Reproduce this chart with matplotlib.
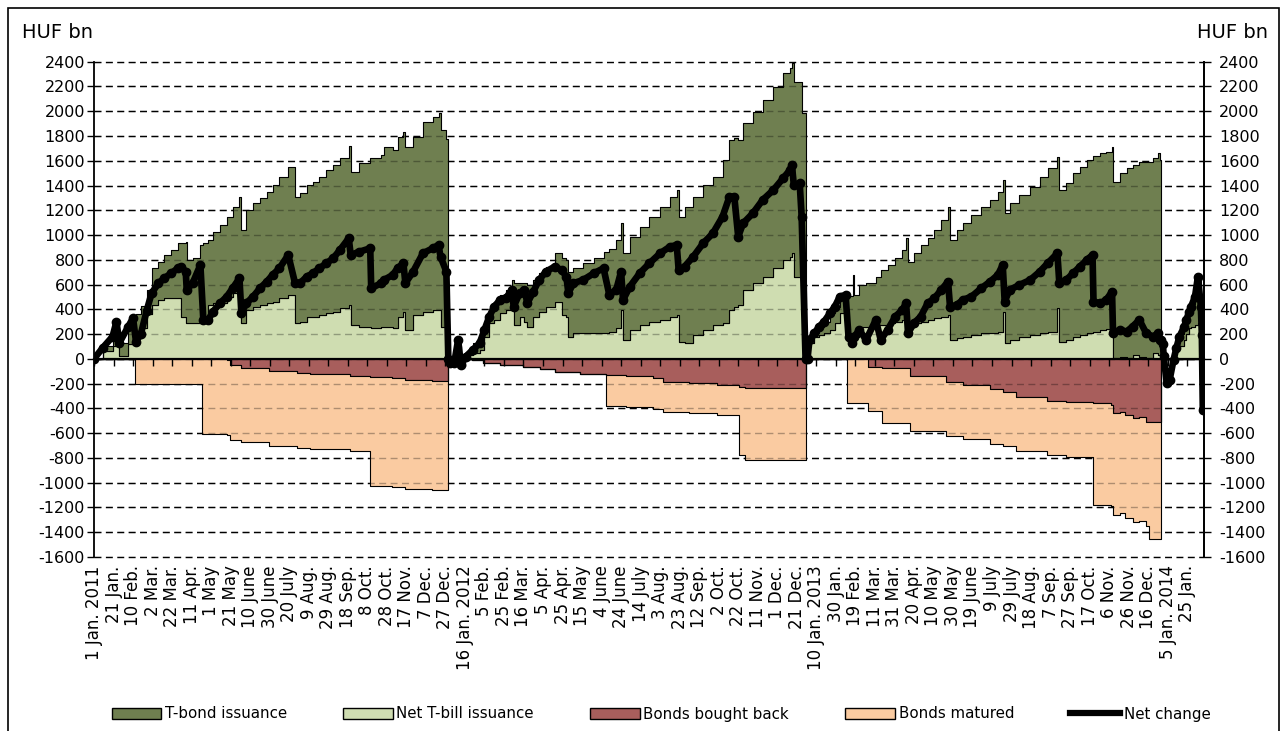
import datetime as dt
import numpy as np
import matplotlib
matplotlib.use("Agg")
import matplotlib.pyplot as plt
import matplotlib.dates as mdates
from matplotlib.patches import Patch, Rectangle
from matplotlib.lines import Line2D

# ---------------- data (HUF bn, cumulative within each year) ----------------
dates_2011 = ['2011-01-01', '2011-01-10', '2011-01-20', '2011-01-24', '2011-01-27', '2011-02-05', '2011-02-10',
              '2011-02-13', '2011-02-18', '2011-02-24', '2011-03-01', '2011-03-08', '2011-03-14', '2011-03-21',
              '2011-03-28', '2011-03-31', '2011-04-05', '2011-04-06', '2011-04-12', '2011-04-20', '2011-04-23',
              '2011-04-28', '2011-05-03', '2011-05-10', '2011-05-17', '2011-05-23', '2011-05-30', '2011-06-01',
              '2011-06-06', '2011-06-13', '2011-06-20', '2011-06-27', '2011-07-03', '2011-07-10', '2011-07-19',
              '2011-07-26', '2011-07-31', '2011-08-07', '2011-08-13', '2011-08-20', '2011-08-27', '2011-09-03',
              '2011-09-10', '2011-09-19', '2011-09-21', '2011-09-30', '2011-10-11', '2011-10-12', '2011-10-22',
              '2011-10-25', '2011-11-03', '2011-11-08', '2011-11-14', '2011-11-16', '2011-11-24', '2011-12-04',
              '2011-12-14', '2011-12-20', '2011-12-22', '2011-12-28', '2011-12-30']
bond_2011 = [0, 40, 90, 120, 110, 140, 180, 190, 180, 200, 296, 309, 349, 390, 443, 591, 659, 511, 524, 605,
             618, 524, 579, 632, 646, 699, 780, 753, 807, 834, 861, 901, 941, 981, 1036, 1022, 1036, 1062, 1089, 1116,
             1156, 1184, 1210, 1283, 1238, 1318, 1358, 1372, 1385, 1453, 1440, 1452, 1453, 1480, 1434, 1533, 1561,
             1588, 1587, 1512, 0]
bill_2011 = [0, 60, 100, 180, 20, 120, 150, 170, 250, 360, 436, 476, 490, 490, 490, 342, 288, 288, 288, 315,
             315, 436, 449, 449, 503, 530, 530, 288, 395, 422, 436, 449, 463, 490, 516, 288, 301, 342, 342, 355,
             369, 382, 409, 436, 274, 261, 261, 247, 261, 261, 247, 342, 382, 234, 355, 382, 395, 395, 261, 261, 0]
net_2011 = [0, 90, 180, 300, 130, 260, 330, 140, 200, 390, 530, 611, 651, 691, 732, 745, 705, 557, 611, 759,
            315, 315, 382, 449, 503, 570, 651, 369, 449, 503, 570, 624, 678, 732, 839, 611, 611, 664, 691, 732,
            772, 812, 880, 974, 839, 866, 893, 570, 611, 637, 678, 732, 772, 611, 705, 853, 893, 920, 826, 705, 0]

dates_2012 = ['2012-01-01', '2012-01-05', '2012-01-09', '2012-01-12', '2012-01-17', '2012-01-24', '2012-01-31',
              '2012-02-05', '2012-02-10', '2012-02-15', '2012-02-21', '2012-02-27', '2012-03-04', '2012-03-06',
              '2012-03-12', '2012-03-17', '2012-03-20', '2012-03-26', '2012-04-01', '2012-04-08', '2012-04-17',
              '2012-04-24', '2012-04-29', '2012-05-01', '2012-05-06', '2012-05-16', '2012-05-27', '2012-06-06',
              '2012-06-12', '2012-06-19', '2012-06-24', '2012-06-26', '2012-07-03', '2012-07-13', '2012-07-23',
              '2012-08-03', '2012-08-13', '2012-08-20', '2012-08-22', '2012-08-28', '2012-09-06', '2012-09-16',
              '2012-09-26', '2012-10-06', '2012-10-13', '2012-10-18', '2012-10-22', '2012-10-27', '2012-11-06',
              '2012-11-16', '2012-11-27', '2012-12-07', '2012-12-14', '2012-12-16', '2012-12-18', '2012-12-24',
              '2012-12-26', '2012-12-30']
bond_2012 = [0, 0, 20, 10, 27, 80, 80, 81, 107, 134, 147, 162, 242, 337, 269, 310, 336, 295, 309, 323,
             390, 457, 457, 525, 525, 565, 605, 659, 664, 713, 700, 700, 753, 794, 848, 914, 968, 1009, 1009, 1103,
             1116, 1170, 1197, 1318, 1372, 1359, 1331, 1345, 1385, 1426, 1466, 1506, 1520, 1533, 1574, 1574, 1383, 0]
bill_2012 = [0, 0, 100, 0, 32, 46, 73, 180, 288, 315, 369, 395, 395, 274, 342, 301, 261, 342, 382, 422,
             463, 355, 342, 180, 207, 207, 207, 207, 221, 247, 395, 153, 234, 274, 301, 315, 342, 355, 140, 126,
             194, 234, 274, 288, 395, 422, 436, 557, 611, 664, 732, 799, 826, 853, 664, 664, 600, 0]
net_2012 = [-30, -35, 150, -48, 19, 73, 126, 234, 342, 422, 476, 490, 557, 422, 530, 557, 449, 543, 637, 705,
            745, 718, 664, 530, 611, 637, 691, 732, 516, 557, 705, 476, 584, 691, 772, 853, 906, 920, 718, 745,
            826, 933, 1014, 1149, 1310, 1310, 987, 1095, 1176, 1283, 1364, 1458, 1525, 1566, 1404, 1418, 1149, 0]

dates_2013 = ['2013-01-01', '2013-01-03', '2013-01-08', '2013-01-13', '2013-01-18', '2013-01-24', '2013-01-29',
              '2013-02-03', '2013-02-09', '2013-02-12', '2013-02-16', '2013-02-17', '2013-02-18', '2013-02-23',
              '2013-03-02', '2013-03-12', '2013-03-17', '2013-03-24', '2013-04-01', '2013-04-08', '2013-04-12',
              '2013-04-14', '2013-04-20', '2013-04-27', '2013-05-04', '2013-05-11', '2013-05-18', '2013-05-25',
              '2013-05-27', '2013-06-03', '2013-06-09', '2013-06-18', '2013-06-28', '2013-07-07', '2013-07-15',
              '2013-07-20', '2013-07-22', '2013-07-27', '2013-08-06', '2013-08-17', '2013-08-27', '2013-09-04',
              '2013-09-14', '2013-09-16', '2013-09-23', '2013-09-30', '2013-10-07', '2013-10-14', '2013-10-20',
              '2013-10-21', '2013-10-28', '2013-11-03', '2013-11-09', '2013-11-10', '2013-11-17', '2013-11-24',
              '2013-11-30', '2013-12-07', '2013-12-14', '2013-12-21', '2013-12-26', '2013-12-28', '2013-12-29',
              '2013-12-31']
bond_2013 = [0, 27, 27, 67, 94, 135, 132, 146, 148, 330, 330, 500, 336, 336, 350, 390, 444, 471, 511, 565,
             646, 524, 565, 619, 659, 713, 780, 874, 807, 874, 915, 968, 1022, 1070, 1129, 1062, 1049, 1103, 1143,
             1197, 1264, 1318, 1224, 1224, 1265, 1318, 1358, 1399, 1417, 1417, 1426, 1433, 1467, 1426, 1479, 1534,
             1534, 1574, 1588, 1574, 1628, 1574, 0, 0]
bill_2013 = [0, 126, 180, 194, 207, 234, 290, 370, 395, 180, 180, 180, 180, 261, 261, 274, 274, 288, 301, 315,
             328, 261, 288, 301, 315, 328, 342, 355, 153, 167, 180, 194, 207, 213, 221, 382, 126, 153, 180, 194,
             207, 221, 409, 140, 153, 180, 194, 207, 221, 221, 234, 240, 247, 5, 19, 5, 32, 19, 5, 46, 32, 32, 0, 0]
net_2013 = [0, 153, 207, 261, 301, 369, 422, 503, 516, 180, 126, 180, 180, 234, 153, 315, 153, 234, 342, 395,
            449, 207, 288, 342, 449, 490, 557, 624, 422, 436, 476, 503, 570, 624, 678, 759, 463, 557, 597, 637,
            705, 772, 853, 611, 637, 691, 745, 799, 839, 463, 449, 476, 543, 207, 234, 221, 261, 315, 207, 180,
            207, 153, 150, 120]

dates_2014 = ['2014-01-01', '2014-01-04', '2014-01-07', '2014-01-11', '2014-01-14', '2014-01-17', '2014-01-22',
              '2014-01-24', '2014-01-27', '2014-01-29', '2014-02-02', '2014-02-05', '2014-02-08', '2014-02-09',
              '2014-02-10']
bond_2014 = [0, 0, 0, 0, 27, 100, 107, 130, 150, 180, 236, 372, 175, 100, 100]
bill_2014 = [0, 0, 0, 0, 73, 100, 153, 200, 247, 260, 274, 288, 247, 200, 200]
net_2014 = [20, -196, -169, -8, 90, 180, 260, 315, 380, 422, 503, 664, 422, 194, -412]

neg_dates = ['2011-01-01', '2011-02-12', '2011-04-22', '2011-05-17', '2011-05-20', '2011-06-01', '2011-06-29',
             '2011-07-28', '2011-08-10', '2011-09-20', '2011-10-11', '2011-11-02', '2011-11-16', '2011-12-13',
             '2011-12-30',
             '2012-01-23', '2012-02-04', '2012-02-21', '2012-03-16', '2012-04-02', '2012-04-17', '2012-05-13',
             '2012-06-09', '2012-06-29', '2012-07-27', '2012-08-06', '2012-09-02', '2012-09-30', '2012-10-23',
             '2012-10-29', '2012-12-30',
             '2013-02-10', '2013-03-04', '2013-03-18', '2013-04-16', '2013-05-23', '2013-06-09', '2013-07-07',
             '2013-07-20', '2013-08-03', '2013-09-03', '2013-09-23', '2013-10-21', '2013-11-08', '2013-11-10',
             '2013-11-17', '2013-11-22', '2013-11-30', '2013-12-07', '2013-12-14', '2013-12-17', '2013-12-29',
             '2014-02-10']
bought_back = [0, 0, 0, -13, -48, -70, -100, -115, -124, -137, -143, -156, -170, -175, 0,
               -10, -30, -48, -67, -83, -105, -124, -132, -140, -156, -183, -196, -210, -225, -234, 0,
               0, -62, -75, -140, -183, -210, -245, -264, -304, -340, -350, -358, -371, -438, -425, -452, -479,
               -471, -506, -506, 0, 0]
matured = [0, -200, -605, -605, -605, -605, -605, -605, -605, -605, -880, -880, -880, -880, 0,
           0, 0, 0, 0, 0, 0, 0, -245, -245, -245, -245, -245, -245, -555, -586, 0,
           -360, -360, -440, -440, -440, -440, -440, -440, -440, -440, -440, -820, -820, -820, -820, -835, -835,
           -835, -845, -950, 0, 0]

y_ticks = list(range(-1600, 2401, 200))
month_abbr = ['Jan.', 'Feb.', 'Mar.', 'Apr.', 'May', 'June', 'July', 'Aug.', 'Sep.', 'Oct.', 'Nov.', 'Dec.']
legend_labels = ['T-bond issuance', 'Net T-bill issuance', 'Bonds bought back', 'Bonds matured', 'Net change']

# ---------------- preparation ----------------
def to_num(ds):
    return mdates.date2num([dt.datetime.strptime(d, '%Y-%m-%d') for d in ds])

pos_dates = to_num(dates_2011 + dates_2012 + dates_2013 + dates_2014)
bond = np.array(bond_2011 + bond_2012 + bond_2013 + bond_2014, float)
bill = np.array(bill_2011 + bill_2012 + bill_2013 + bill_2014, float)
net = np.array(net_2011 + net_2012 + net_2013 + net_2014, float)
ndates = to_num(neg_dates)
buy = np.array(bought_back, float)
mat = np.array(matured, float)
assert len(pos_dates) == len(bond) == len(bill) == len(net)
assert len(ndates) == len(buy) == len(mat)

start = dt.datetime(2011, 1, 1)
tick_dt = [start + dt.timedelta(days=20 * k) for k in range(57)]
tick_labels = []
prev_year = None
for t in tick_dt:
    lab = f"{t.day} {month_abbr[t.month - 1]}"
    if t.year != prev_year:
        lab += f" {t.year}"
        prev_year = t.year
    tick_labels.append(lab)
tick_pos = mdates.date2num(tick_dt)

C_BOND = '#6F7F50'
C_BILL = '#CFDDB1'
C_BUY = '#A85E5C'
C_MAT = '#FACBA1'

W, H = 1285, 731
fig = plt.figure(figsize=(W / 100, H / 100), dpi=100)
ax = fig.add_axes([94 / W, 1 - 557 / H, (1203.5 - 94) / W, (557 - 61.7) / H])

x0 = mdates.date2num(start)
ax.set_xlim(x0, x0 + 1136.7)
ax.set_ylim(-1600, 2400)

dash = (0, (5, 3.2))
for y in y_ticks:
    ax.axhline(y, color='k', lw=1.0, ls=dash, zorder=0.5, clip_on=False)

ax.fill_between(pos_dates, 0, bill, step='post', facecolor=C_BILL, edgecolor='k', lw=0.8, zorder=1)
ax.fill_between(pos_dates, bill, bill + bond, step='post', facecolor=C_BOND, edgecolor='k', lw=0.8, zorder=1)
ax.fill_between(ndates, 0, buy, step='post', facecolor=C_BUY, edgecolor='k', lw=0.8, zorder=1)
ax.fill_between(ndates, buy, buy + mat, step='post', facecolor=C_MAT, edgecolor='k', lw=0.8, zorder=1)

for y in y_ticks:
    ax.axhline(y, color='k', lw=1.0, ls=dash, zorder=2, alpha=0.3)

ax.plot(pos_dates, net, color='k', lw=4.8, marker='o', ms=6, mec='k', mfc='k',
        solid_joinstyle='round', solid_capstyle='round', zorder=7)

# axes styling
for s in ['top', 'bottom']:
    ax.spines[s].set_visible(False)
for s in ['left', 'right']:
    ax.spines[s].set_linewidth(1.3)
ax.set_yticks(y_ticks)
ax.set_yticklabels([str(v) for v in y_ticks])
ax.tick_params(axis='y', left=True, right=False, labelleft=True, labelright=False,
               direction='out', length=5, width=1, labelsize=11.5, pad=1.5)
ax.set_xticks(tick_pos)
ax.set_xticklabels(tick_labels, rotation=90, fontsize=12)
ax.tick_params(axis='x', length=0, pad=6)

# right-hand scale
axr = ax.twinx()
axr.set_ylim(ax.get_ylim())
axr.set_yticks(y_ticks)
axr.set_yticklabels([str(v) for v in y_ticks])
axr.tick_params(axis='y', direction='out', length=5, width=1, labelsize=11.5, pad=6)
for s in ['top', 'bottom', 'left']:
    axr.spines[s].set_visible(False)
axr.spines['right'].set_linewidth(1.3)
axr.patch.set_visible(False)

# zero line axis with tick marks
sec = ax.secondary_xaxis(0.4)
sec.set_xticks(tick_pos)
sec.tick_params(axis='x', direction='out', length=5, width=1, labelbottom=False, labeltop=False)
for s in sec.spines.values():
    s.set_visible(False)
sec.spines['bottom'].set_visible(True)
sec.spines['bottom'].set_linewidth(1.6)
sec.patch.set_visible(False)
sec.set_zorder(5)

fig.text(22 / W, 1 - 32 / H, 'HUF bn', fontsize=14, ha='left', va='center')
fig.text(1268 / W, 1 - 32 / H, 'HUF bn', fontsize=14, ha='right', va='center')

handles = [Patch(facecolor=C_BOND, edgecolor='k', lw=1),
           Patch(facecolor=C_BILL, edgecolor='k', lw=1),
           Patch(facecolor=C_BUY, edgecolor='k', lw=1),
           Patch(facecolor=C_MAT, edgecolor='k', lw=1),
           Line2D([], [], color='k', lw=4.5)]
fig.legend(handles, legend_labels, loc='center', bbox_to_anchor=(661 / W, 1 - 714 / H), ncol=5,
           frameon=False, fontsize=10.8, handlelength=3.3, handleheight=0.8, handletextpad=0.25,
           columnspacing=3.75)

fig.add_artist(Rectangle((7.5 / W, -0.01), (1278.5 - 7.5) / W, (H - 8) / H + 0.01,
                         transform=fig.transFigure, fill=False, edgecolor='k', lw=1.2))

fig.savefig('out.png', dpi=100)
